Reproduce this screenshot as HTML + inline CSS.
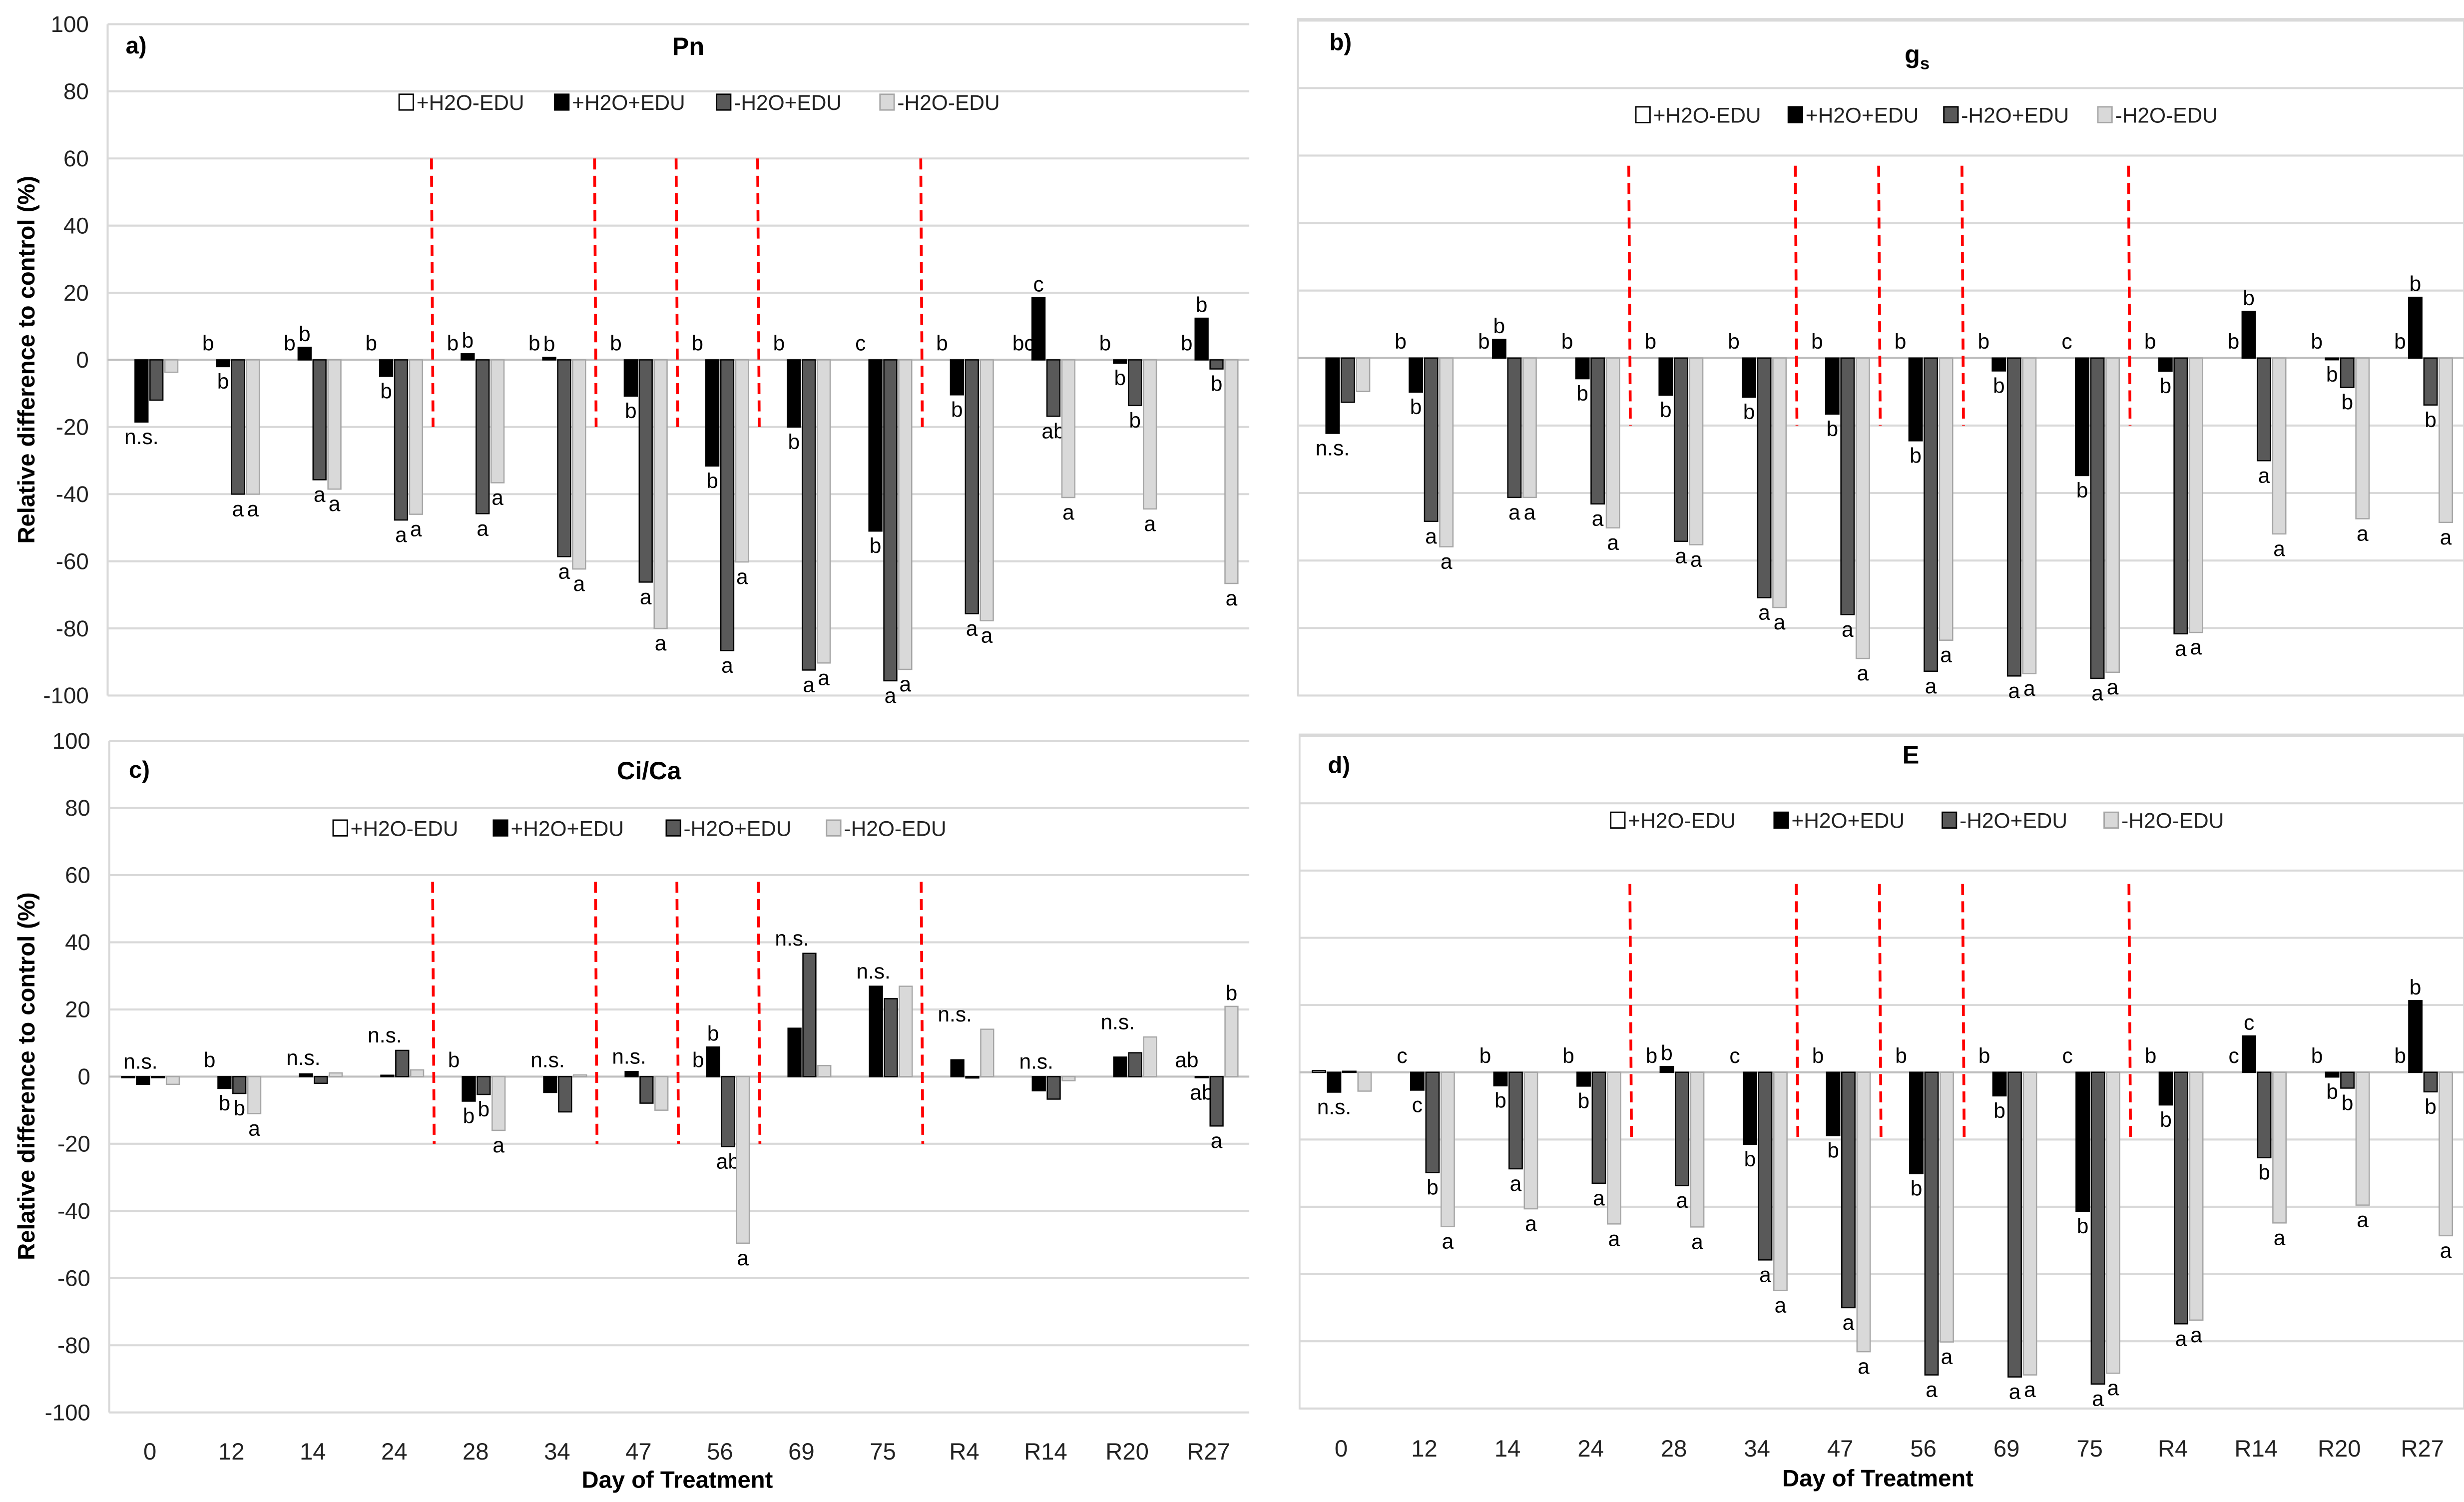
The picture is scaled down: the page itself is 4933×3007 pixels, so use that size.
<!DOCTYPE html>
<html><head><meta charset="utf-8"><style>
html,body{margin:0;padding:0;background:#fff}
svg{display:block}
text{font-family:"Liberation Sans",sans-serif}
</style></head><body>
<svg id="fig" xmlns="http://www.w3.org/2000/svg" width="4933" height="3007" viewBox="0 0 1568 956" preserveAspectRatio="none">
<rect x="0" y="0" width="1568" height="956" fill="#fff"/>
<text transform="translate(22,229) rotate(-90)" text-anchor="middle" font-size="15" font-weight="bold">Relative difference to control (%)</text>
<text transform="translate(22,685) rotate(-90)" text-anchor="middle" font-size="15" font-weight="bold">Relative difference to control (%)</text>
<text x="431" y="947" text-anchor="middle" font-size="15" font-weight="bold">Day of Treatment</text>
<text x="1195" y="946" text-anchor="middle" font-size="15" font-weight="bold">Day of Treatment</text>
</svg>
<script>
const categories = ["0","12","14","24","28","34","47","56","69","75","R4","R14","R20","R27"];
const seriesNames = ["+H2O-EDU","+H2O+EDU","-H2O+EDU","-H2O-EDU"];
const yTicks = [100,80,60,40,20,0,-20,-40,-60,-80,-100];
const dividerAfter = [3,5,6,7,9];

const pnWhite = [0,0,0,0,0,0,0,0,0,0,0,0,0,0];
const pnBlack = [-18.5,-2,3.7,-4.9,1.8,0.7,-10.8,-31.6,-20,-51,-10.4,18.5,-1,12.4];
const pnDark  = [-12,-40,-35.7,-47.7,-45.8,-58.6,-66.2,-86.6,-92.4,-95.6,-75.6,-16.8,-13.6,-2.7];
const pnLight = [-3.7,-40,-38.5,-46,-36.6,-62.3,-80,-60.2,-90.3,-92.2,-77.7,-41,-44.4,-66.6];
const pnLetW = ["","b","b","b","b","b","b","b","b","c","b","bc","b","b"];
const pnLetK = ["n.s.","b","b","b","b","b","b","b","b","b","b","c","b","b"];
const pnLetD = ["","a","a","a","a","a","a","a","a","a","a","ab","b","b"];
const pnLetL = ["","a","a","a","a","a","a","a","a","a","a","a","a","a"];

const gsWhite = [0,0,0,0,0,0,0,0,0,0,0,0,0,0];
const gsBlack = [-22.3,-10.1,5.5,-6.1,-11,-11.6,-16.6,-24.5,-3.8,-34.8,-3.9,13.8,-0.5,18];
const gsDark  = [-13.1,-48.4,-41.3,-43.2,-54.3,-71,-76,-92.8,-94.2,-94.9,-81.7,-30.4,-8.7,-13.9];
const gsLight = [-9.9,-55.9,-41.3,-50.3,-55.3,-73.9,-89,-83.6,-93.5,-93.1,-81.3,-52.1,-47.6,-48.7];
const gsLetW = ["","b","b","b","b","b","b","b","b","c","b","b","b","b"];
const gsLetK = ["n.s.","b","b","b","b","b","b","b","b","b","b","b","b","b"];
const gsLetD = ["","a","a","a","a","a","a","a","a","a","a","a","b","b"];
const gsLetL = ["","a","a","a","a","a","a","a","a","a","a","a","a","a"];

const ciWhite = [-0.3,0,0,0,0,0,0,0,0,0,0,0,0,0];
const ciBlack = [-2.3,-3.5,0.8,0.4,-7.3,-4.7,1.5,8.8,14.4,26.9,5,-4.2,5.8,-0.3];
const ciDark  = [-0.3,-5,-2,7.8,-5.3,-10.5,-7.9,-20.8,36.7,23.2,-0.4,-6.7,7.1,-14.7];
const ciLight = [-2.3,-11,1.1,2,-16,0.5,-10,-49.6,3.3,26.9,14.1,-1.2,11.8,20.9];
const ciLetW = ["n.s.","b","n.s.","n.s.","b","n.s.","n.s.","b","n.s.","n.s.","n.s.","n.s.","n.s.","ab"];
const ciLetK = ["","b","","","b","","","b","","","","","","ab"];
const ciLetD = ["","b","","","b","","","ab","","","","","","a"];
const ciLetL = ["","a","","","a","","","a","","","","","","b"];

const eWhite = [0.5,0,0,0,0,0,0,0,0,0,0,0,0,0];
const eBlack = [-5.9,-5.3,-4,-4.1,1.7,-21.4,-18.8,-30.1,-7,-41.3,-9.7,10.8,-1.4,21.3];
const eDark  = [0.3,-29.8,-28.7,-33,-33.7,-55.8,-70,-90,-90.6,-92.7,-74.8,-25.4,-4.7,-5.8];
const eLight = [-5.6,-45.9,-40.6,-45.1,-46,-64.9,-83.1,-80.2,-90,-89.5,-73.7,-44.8,-39.5,-48.6];
const eLetW = ["","c","b","b","b","c","b","b","b","c","b","c","b","b"];
const eLetK = ["n.s.","c","b","b","b","b","b","b","b","b","b","c","b","b"];
const eLetD = ["","b","a","a","a","a","a","a","a","a","a","b","b","b"];
const eLetL = ["","a","a","a","a","a","a","a","a","a","a","a","a","a"];

const NS='http://www.w3.org/2000/svg';
const svg=document.getElementById('fig');
function mk(tag,attrs,parent){const e=document.createElementNS(NS,tag);for(const k in attrs)e.setAttribute(k,attrs[k]);(parent||svg).appendChild(e);return e;}

const fills=['#ffffff','#000000','#595959','#d9d9d9'];
const strokes=['#000000','#000000','#000000','#a6a6a6'];

function panel(cfg){
  const g=mk('g',{});
  
  
  const L=cfg.left, R=cfg.right, T=cfg.top, B=cfg.bottom;
  const y=v=>T+(100-v)/200*(B-T);
  const step=(R-L)/categories.length;
  const x=i=>L+step*(i+0.5);
  const k=step/51.9;
  if(cfg.box){
    const bx=mk('rect',{x:L,y:T-1,width:R-L,height:B-T+1,fill:'none',stroke:'#d9d9d9','stroke-width':1.2},g);
    
    
  }
  yTicks.forEach(t=>{
    const ln=mk('line',{x1:L,x2:R,y1:y(t),y2:y(t),stroke:'#d9d9d9','stroke-width':1.3},g);
    
    
    if(cfg.yLabels){
      const tx=mk('text',{x:L-12,y:y(t)+5,'text-anchor':'end','font-size':14.5,fill:'#222'},g);
      
      
      tx.textContent=t;
    }
  });
  if(!cfg.box){
    const ax=mk('line',{x1:L,x2:L,y1:T,y2:B,stroke:'#d9d9d9','stroke-width':1.3},g);
    
    
  }
  const zl=mk('line',{x1:L,x2:R,y1:y(0),y2:y(0),stroke:'#bfbfbf','stroke-width':1.3},g);
  
  
  const offs=[-18,-8.5,1,10.5], bw=8.2*k;
  const series=cfg.series, lets=cfg.letters;
  categories.forEach((c,i)=>{
    const gmax=Math.max(0,...series.map(s=>s[i]));
    for(let s=0;s<4;s++){
      const v=series[s][i];
      const bx=x(i)+offs[s]*k;
      const y0=y(0), y1=y(v);
      if(Math.abs(v)>=0.3){
        const r=mk('rect',{x:bx,y:Math.min(y0,y1),width:bw,height:Math.abs(y1-y0),fill:fills[s],stroke:strokes[s],'stroke-width':0.8},g);
        
        
      }
      const lt=lets[s][i];
      if(lt){
        let ly, lx=bx+bw/2;
        if(s===0){ ly=(lt==='n.s.')?y(gmax)-5:y(0)-6; if(lt==='n.s.') lx=x(i)-6*k; }
        else if(v<0) ly=y1+14;
        else ly=y1-4;
        const t=mk('text',{x:lx,y:ly,'text-anchor':'middle','font-size':13.5,fill:'#000'},g);
        
        
        t.textContent=lt;
      }
    }
    if(cfg.xLabels){
      const t=mk('text',{x:x(i),y:cfg.xLabelY,'text-anchor':'middle','font-size':15,fill:'#222'},g);
      
      
      t.textContent=c;
    }
  });
  dividerAfter.forEach(d=>{
    const xx=L+step*(d+1)-1.5;
    const ln=mk('line',{x1:xx,x2:xx+1,y1:y(cfg.divTop),y2:y(-20),stroke:'#ff0000','stroke-width':1.8,'stroke-dasharray':'7,4'},g);
    
    
  });
  const pl=mk('text',{x:cfg.plx,y:cfg.ply,'font-size':15,'font-weight':'bold'},g);
  
  
  pl.textContent=cfg.label;
  const tt=mk('text',{x:cfg.tx,y:cfg.ty,'text-anchor':'middle','font-size':16,'font-weight':'bold'},g);
  
  
  tt.textContent=cfg.title;
  if(cfg.sub){const ts=mk('tspan',{'font-size':11,dy:4},tt);ts.textContent=cfg.sub;}
  const lg=mk('g',{},g);
  
  
  cfg.legX.forEach((lx,s)=>{
    const sq=mk('rect',{x:lx,y:cfg.legY-10,width:9,height:10,fill:fills[s],stroke:strokes[s],'stroke-width':0.9},lg);
    
    
    const t=mk('text',{x:lx+11,y:cfg.legY,'font-size':13.5,fill:'#222'},lg);
    
    
    t.textContent=seriesNames[s];
  });
}

panel({name:'pn',title:'Pn',label:'a)',left:68.5,right:795,top:15.4,bottom:442.7,yLabels:true,xLabels:false,box:false,
  series:[pnWhite,pnBlack,pnDark,pnLight],letters:[pnLetW,pnLetK,pnLetD,pnLetL],divTop:60,
  plx:80,ply:34,tx:438,ty:35,legX:[254,353,456,560],legY:70});
panel({name:'gs',title:'g',sub:'s',label:'b)',left:826,right:1568,top:13.1,bottom:442.7,yLabels:false,xLabels:false,box:true,
  series:[gsWhite,gsBlack,gsDark,gsLight],letters:[gsLetW,gsLetK,gsLetD,gsLetL],divTop:57,
  plx:846,ply:32,tx:1220,ty:40,legX:[1041,1138,1237,1335],legY:78});
panel({name:'cica',title:'Ci/Ca',label:'c)',left:69.5,right:795,top:471.5,bottom:899,yLabels:true,xLabels:true,xLabelY:929,box:false,
  series:[ciWhite,ciBlack,ciDark,ciLight],letters:[ciLetW,ciLetK,ciLetD,ciLetL],divTop:58,
  plx:82,ply:495,tx:413,ty:496,legX:[212,314,424,526],legY:532});
panel({name:'e',title:'E',label:'d)',left:827,right:1568,top:468.5,bottom:896.5,yLabels:false,xLabels:true,xLabelY:927,box:true,
  series:[eWhite,eBlack,eDark,eLight],letters:[eLetW,eLetK,eLetD,eLetL],divTop:56,
  plx:845,ply:492,tx:1216,ty:486,legX:[1025,1129,1236,1339],legY:527});
</script>
</body></html>
